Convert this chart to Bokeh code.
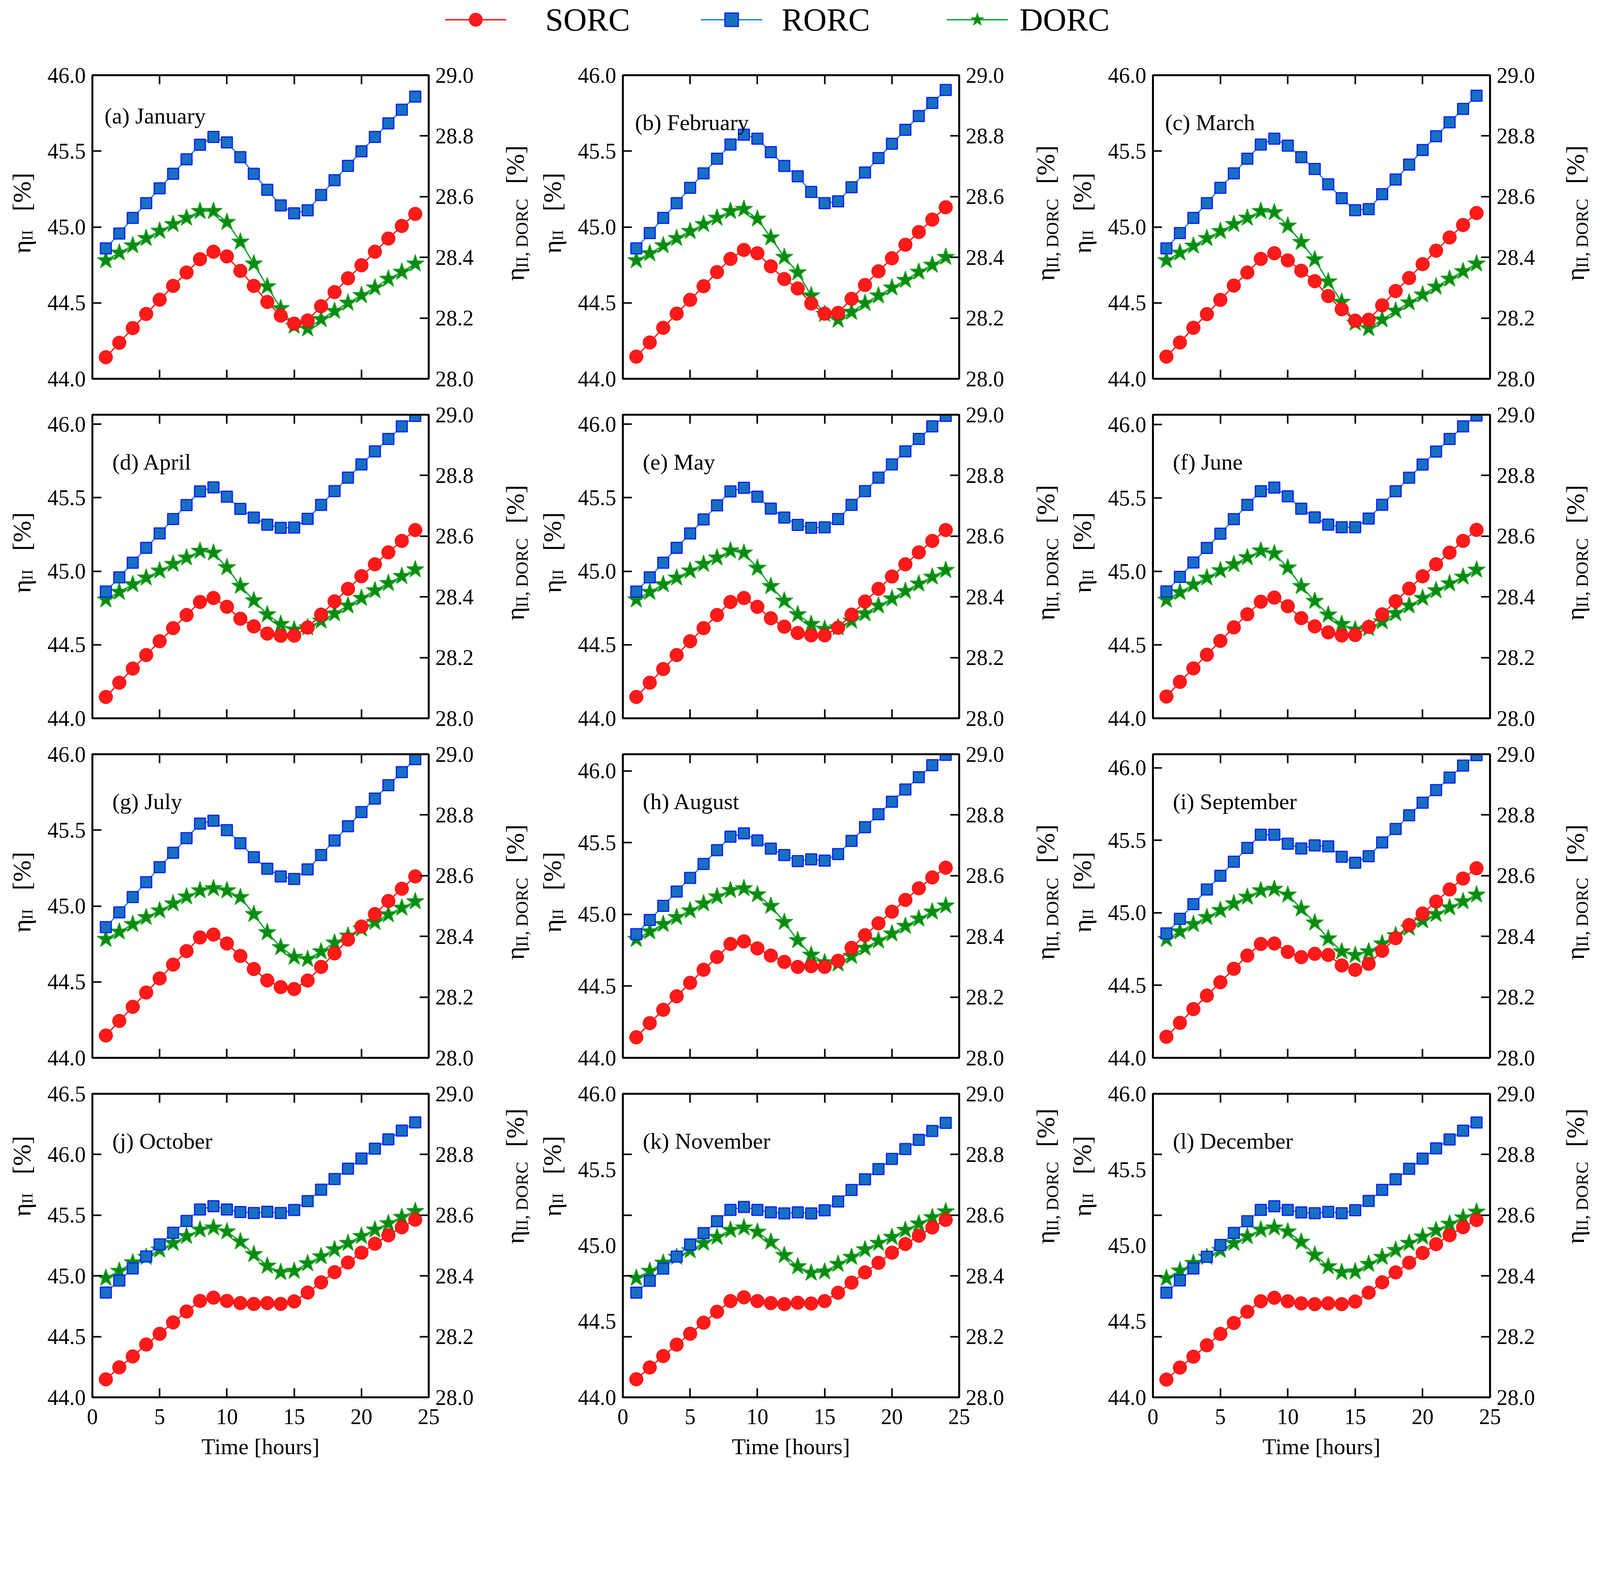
from math import pi
from bokeh.plotting import figure
from bokeh.models import (Range1d, LinearAxis, FixedTicker, PrintfTickFormatter,
                          CustomJSTickFormatter, Label, Legend, LegendItem, ColumnDataSource)
from bokeh.layouts import column, row
from bokeh.embed import file_html
from bokeh.resources import INLINE
from bokeh.core.properties import value

FONT = "Liberation Serif"

hours = list(range(1, 25))

series_names = ["SORC", "RORC", "DORC"]

sorc_jan = [44.142,44.237,44.334,44.427,44.521,44.612,44.700,44.788,44.837,44.806,44.711,44.612,44.506,44.416,44.363,44.384,44.478,44.571,44.662,44.748,44.837,44.924,45.007,45.086]
rorc_jan = [44.859,44.957,45.060,45.157,45.255,45.351,45.446,45.542,45.593,45.557,45.460,45.351,45.245,45.142,45.090,45.110,45.211,45.308,45.403,45.499,45.593,45.683,45.773,45.859]
dorc_jan = [28.390,28.415,28.439,28.463,28.487,28.509,28.530,28.552,28.552,28.516,28.451,28.379,28.304,28.232,28.174,28.165,28.196,28.223,28.250,28.275,28.300,28.329,28.352,28.379]

sorc_feb = [44.146,44.239,44.336,44.429,44.520,44.610,44.703,44.790,44.849,44.827,44.741,44.657,44.595,44.496,44.429,44.434,44.527,44.618,44.708,44.794,44.883,44.967,45.049,45.130]
rorc_feb = [44.859,44.960,45.060,45.157,45.258,45.353,45.450,45.543,45.608,45.582,45.493,45.402,45.334,45.231,45.157,45.169,45.262,45.359,45.454,45.548,45.640,45.731,45.817,45.903]
dorc_feb = [28.390,28.413,28.439,28.463,28.486,28.509,28.530,28.552,28.559,28.527,28.465,28.401,28.350,28.274,28.213,28.194,28.220,28.249,28.274,28.300,28.325,28.352,28.375,28.401]

sorc_mar = [44.146,44.239,44.336,44.426,44.520,44.614,44.700,44.790,44.827,44.780,44.712,44.643,44.545,44.458,44.383,44.389,44.484,44.578,44.664,44.755,44.844,44.931,45.013,45.092]
rorc_mar = [44.859,44.960,45.060,45.157,45.258,45.353,45.450,45.543,45.582,45.536,45.460,45.382,45.281,45.190,45.111,45.118,45.216,45.313,45.411,45.507,45.598,45.690,45.778,45.865]
dorc_mar = [28.390,28.415,28.438,28.463,28.486,28.509,28.530,28.552,28.548,28.504,28.450,28.393,28.320,28.253,28.184,28.166,28.195,28.224,28.251,28.277,28.303,28.329,28.354,28.379]

sorc_apr = [44.145,44.242,44.338,44.430,44.524,44.613,44.702,44.791,44.818,44.758,44.677,44.625,44.576,44.561,44.562,44.617,44.705,44.795,44.880,44.966,45.047,45.128,45.206,45.280]
rorc_apr = [44.862,44.958,45.058,45.159,45.257,45.355,45.450,45.543,45.570,45.507,45.424,45.365,45.316,45.295,45.297,45.356,45.451,45.545,45.636,45.726,45.815,45.899,45.985,46.056]
dorc_apr = [28.391,28.416,28.441,28.463,28.486,28.508,28.529,28.551,28.545,28.497,28.436,28.388,28.342,28.310,28.292,28.299,28.321,28.345,28.371,28.396,28.421,28.445,28.468,28.490]

sorc_may = [44.145,44.242,44.335,44.430,44.524,44.613,44.702,44.791,44.818,44.758,44.680,44.623,44.580,44.564,44.564,44.616,44.705,44.794,44.880,44.964,45.047,45.128,45.206,45.280]
rorc_may = [44.862,44.958,45.058,45.159,45.257,45.352,45.448,45.543,45.567,45.507,45.426,45.365,45.315,45.295,45.298,45.355,45.451,45.545,45.636,45.726,45.815,45.899,45.985,46.056]
dorc_may = [28.391,28.416,28.441,28.463,28.486,28.508,28.529,28.552,28.545,28.495,28.435,28.387,28.342,28.310,28.294,28.299,28.321,28.345,28.371,28.394,28.419,28.443,28.466,28.488]

sorc_jun = [44.148,44.248,44.340,44.433,44.527,44.619,44.708,44.794,44.822,44.763,44.682,44.626,44.585,44.564,44.567,44.622,44.708,44.797,44.883,44.967,45.049,45.128,45.208,45.283]
rorc_jun = [44.864,44.963,45.061,45.160,45.257,45.356,45.453,45.546,45.571,45.512,45.427,45.368,45.319,45.301,45.301,45.360,45.454,45.546,45.638,45.728,45.816,45.902,45.988,46.062]
dorc_jun = [28.390,28.415,28.440,28.463,28.487,28.507,28.530,28.552,28.543,28.496,28.435,28.386,28.341,28.310,28.292,28.296,28.319,28.346,28.371,28.396,28.421,28.444,28.466,28.489]

sorc_jul = [44.147,44.243,44.336,44.430,44.523,44.614,44.703,44.793,44.812,44.753,44.671,44.585,44.510,44.466,44.453,44.509,44.599,44.688,44.779,44.865,44.947,45.033,45.114,45.195]
rorc_jul = [44.861,44.958,45.059,45.157,45.256,45.351,45.447,45.543,45.562,45.500,45.414,45.322,45.246,45.195,45.178,45.241,45.336,45.432,45.526,45.619,45.708,45.796,45.882,45.968]
dorc_jul = [28.391,28.415,28.440,28.463,28.485,28.508,28.531,28.551,28.558,28.551,28.529,28.473,28.413,28.364,28.332,28.325,28.350,28.379,28.402,28.425,28.447,28.472,28.494,28.515]

sorc_aug = [44.143,44.242,44.335,44.429,44.523,44.614,44.703,44.794,44.812,44.763,44.713,44.669,44.634,44.639,44.634,44.677,44.767,44.855,44.938,45.019,45.101,45.182,45.258,45.326]
rorc_aug = [44.862,44.961,45.060,45.159,45.255,45.352,45.448,45.542,45.565,45.516,45.459,45.414,45.372,45.384,45.375,45.421,45.513,45.608,45.699,45.786,45.871,45.957,46.041,46.113]
dorc_aug = [28.391,28.416,28.440,28.463,28.485,28.508,28.531,28.552,28.558,28.538,28.500,28.447,28.387,28.339,28.314,28.310,28.335,28.362,28.386,28.409,28.434,28.458,28.481,28.501]

sorc_sep = [44.145,44.241,44.336,44.429,44.521,44.614,44.705,44.785,44.788,44.730,44.694,44.717,44.709,44.637,44.607,44.648,44.738,44.825,44.916,44.995,45.077,45.161,45.236,45.307]
rorc_sep = [44.858,44.958,45.059,45.160,45.255,45.352,45.447,45.538,45.538,45.476,45.443,45.465,45.458,45.386,45.345,45.390,45.485,45.578,45.672,45.759,45.846,45.932,46.015,46.087]
dorc_sep = [28.391,28.416,28.440,28.463,28.486,28.508,28.530,28.551,28.556,28.537,28.491,28.445,28.393,28.350,28.338,28.350,28.376,28.403,28.428,28.452,28.473,28.495,28.515,28.537]

sorc_oct = [44.148,44.247,44.337,44.435,44.523,44.617,44.707,44.794,44.821,44.794,44.776,44.769,44.776,44.769,44.790,44.863,44.947,45.031,45.110,45.191,45.265,45.334,45.400,45.463]
rorc_oct = [44.863,44.962,45.062,45.160,45.260,45.355,45.453,45.547,45.574,45.547,45.526,45.518,45.528,45.518,45.543,45.616,45.710,45.798,45.883,45.967,46.048,46.124,46.197,46.264]
dorc_oct = [28.393,28.416,28.444,28.462,28.486,28.508,28.531,28.552,28.559,28.546,28.513,28.471,28.433,28.412,28.416,28.441,28.464,28.487,28.508,28.531,28.552,28.573,28.594,28.613]

sorc_nov = [44.119,44.197,44.272,44.347,44.419,44.492,44.564,44.634,44.659,44.634,44.621,44.614,44.623,44.618,44.634,44.689,44.756,44.823,44.886,44.953,45.010,45.065,45.119,45.169]
rorc_nov = [44.690,44.768,44.848,44.927,45.007,45.082,45.160,45.235,45.254,45.235,45.219,45.212,45.219,45.212,45.232,45.290,45.366,45.436,45.504,45.571,45.636,45.696,45.755,45.808]
dorc_nov = [28.393,28.416,28.443,28.462,28.484,28.508,28.528,28.551,28.559,28.545,28.512,28.468,28.431,28.410,28.414,28.439,28.462,28.487,28.508,28.528,28.551,28.572,28.593,28.612]

sorc_dec = [44.117,44.196,44.268,44.343,44.418,44.490,44.564,44.633,44.656,44.633,44.619,44.614,44.619,44.614,44.631,44.690,44.758,44.823,44.887,44.951,45.009,45.068,45.121,45.168]
rorc_dec = [44.690,44.770,44.849,44.926,45.004,45.083,45.160,45.235,45.259,45.235,45.218,45.213,45.222,45.213,45.233,45.294,45.367,45.436,45.506,45.573,45.640,45.699,45.757,45.811]
dorc_dec = [28.392,28.417,28.442,28.462,28.485,28.508,28.530,28.552,28.559,28.546,28.512,28.469,28.431,28.412,28.414,28.439,28.462,28.485,28.508,28.529,28.550,28.571,28.592,28.611]

panel_titles = ["(a) January", "(b) February", "(c) March", "(d) April", "(e) May", "(f) June",
                "(g) July", "(h) August", "(i) September", "(j) October", "(k) November", "(l) December"]
left_top = [46.0, 46.0, 46.0, 46.064, 46.064, 46.067, 46.0, 46.117, 46.093, 46.5, 46.0, 46.0]
left_ticks_std = [44.0, 44.5, 45.0, 45.5, 46.0]
left_ticks_oct = [44.0, 44.5, 45.0, 45.5, 46.0, 46.5]
left_marks_nov_dec = [44.0, 44.4, 44.8, 45.2, 45.6, 46.0]
right_ticks = [28.0, 28.2, 28.4, 28.6, 28.8, 29.0]
x_ticks = [0, 5, 10, 15, 20, 25]

months = [
    (sorc_jan, rorc_jan, dorc_jan), (sorc_feb, rorc_feb, dorc_feb), (sorc_mar, rorc_mar, dorc_mar),
    (sorc_apr, rorc_apr, dorc_apr), (sorc_may, rorc_may, dorc_may), (sorc_jun, rorc_jun, dorc_jun),
    (sorc_jul, rorc_jul, dorc_jul), (sorc_aug, rorc_aug, dorc_aug), (sorc_sep, rorc_sep, dorc_sep),
    (sorc_oct, rorc_oct, dorc_oct), (sorc_nov, rorc_nov, dorc_nov), (sorc_dec, rorc_dec, dorc_dec),
]

RED_LINE = "#ff1010"
RED_FILL = "#ff1a1a"
BLUE_LINE = "#1a86d0"
BLUE_FILL = "#1770c0"
BLUE_EDGE = "#0a1cff"
GREEN_LINE = "#169a3a"
GREEN_FILL = "#0a8a14"
GREEN_EDGE = "#22aa22"

# layout (CSS px)
COL_W = [861, 861, 863]
SIDE = 140
FRAME_H = 777
TOP_B = 56
BOT_B = 36
BOT_LAST = 178
ROW_H = TOP_B + FRAME_H + BOT_B
ROW_H_LAST = TOP_B + FRAME_H + BOT_LAST
STRIP_W = [96, 217, 216, 120]
LEGEND_H = 136
TOTAL_W = sum(STRIP_W) + sum(COL_W) + 6 * SIDE

TICK_FONT = "56px"
LW = 3.3


def style_axis(ax, labels=True, standoff=17):
    ax.axis_line_width = 5
    ax.axis_line_color = "black"
    ax.major_tick_in = 23
    ax.major_tick_out = 0
    ax.major_tick_line_width = 4
    ax.minor_tick_line_color = None
    ax.major_label_text_font = FONT
    ax.major_label_text_font_size = TICK_FONT
    ax.major_label_text_color = "black"
    ax.major_label_standoff = standoff
    if not labels:
        ax.formatter = CustomJSTickFormatter(code="return ''")


def make_panel(i):
    col = i % 3
    last = i >= 9
    sorc, rorc, dorc = months[i]
    ytop = left_top[i]
    p = figure(frame_width=COL_W[col], frame_height=FRAME_H,
               min_border_left=SIDE, min_border_right=SIDE,
               min_border_top=TOP_B, min_border_bottom=(BOT_LAST if last else BOT_B),
               x_range=Range1d(0, 25), y_range=Range1d(44.0, ytop),
               x_axis_location=None, y_axis_location=None,
               output_backend="svg", toolbar_location=None)
    p.extra_y_ranges = {"dorc": Range1d(28.0, 29.0)}
    p.grid.grid_line_color = None
    p.outline_line_color = "black"
    p.outline_line_width = 5
    p.background_fill_color = "white"
    p.border_fill_color = "white"

    src = ColumnDataSource(dict(hour=hours, sorc=sorc, rorc=rorc, dorc=dorc))

    if i >= 10:
        # November / December: tick marks sit at the right-axis positions,
        # while the labels stay at 0.5 steps (as in the reference)
        lm = LinearAxis(ticker=FixedTicker(ticks=left_marks_nov_dec))
        style_axis(lm, labels=False, standoff=0)
        p.add_layout(lm, "left")
        ly = LinearAxis(ticker=FixedTicker(ticks=left_ticks_std),
                        formatter=PrintfTickFormatter(format="%.1f"))
        style_axis(ly, standoff=17)
        ly.major_tick_in = 0
        ly.axis_line_color = None
        p.add_layout(ly, "left")
    else:
        ly = LinearAxis(ticker=FixedTicker(ticks=left_ticks_oct if i == 9 else left_ticks_std),
                        formatter=PrintfTickFormatter(format="%.1f"))
        style_axis(ly)
        p.add_layout(ly, "left")
    ry = LinearAxis(y_range_name="dorc", ticker=FixedTicker(ticks=right_ticks),
                    formatter=PrintfTickFormatter(format="%.1f"))
    style_axis(ry)
    p.add_layout(ry, "right")
    tx = LinearAxis(ticker=FixedTicker(ticks=x_ticks))
    style_axis(tx, labels=False)
    p.add_layout(tx, "above")
    bx = LinearAxis(ticker=FixedTicker(ticks=x_ticks))
    if last:
        style_axis(bx, labels=True, standoff=30)
        bx.axis_label = "Time [hours]"
        bx.axis_label_text_font = FONT
        bx.axis_label_text_font_size = "58px"
        bx.axis_label_text_font_style = "normal"
        bx.axis_label_text_color = "black"
        bx.axis_label_standoff = 22
    else:
        style_axis(bx, labels=False)
    p.add_layout(bx, "below")

    p.line("hour", "dorc", source=src, y_range_name="dorc", color=GREEN_LINE, line_width=LW)
    p.scatter("hour", "dorc", source=src, y_range_name="dorc", marker="star", size=47,
              fill_color=GREEN_FILL, line_color=GREEN_EDGE, line_width=2)
    p.line("hour", "rorc", source=src, color=BLUE_LINE, line_width=LW)
    p.scatter("hour", "rorc", source=src, marker="square", size=28,
              fill_color=BLUE_FILL, line_color=BLUE_EDGE, line_width=3)
    p.line("hour", "sorc", source=src, color=RED_LINE, line_width=LW)
    p.scatter("hour", "sorc", source=src, marker="circle", size=35,
              fill_color=RED_FILL, line_color="#ee0000", line_width=1)

    p.add_layout(Label(x=0, y=ytop, x_offset=(31 if i < 3 else 51),
                       y_offset=(-104 if i == 0 else -121),
                       text=panel_titles[i], text_font=FONT, text_font_size="58px",
                       text_align="left", text_baseline="alphabetic", text_color="black"))
    return p


def vlabel(s, x, y, text, size):
    s.add_layout(Label(x=x, y=y, x_units="screen", y_units="screen", text=text, angle=pi / 2,
                       text_font=FONT, text_font_size=size, text_align="left",
                       text_baseline="alphabetic", text_color="black"))


def left_label(s, bx, yc):
    y0 = yc - 104
    vlabel(s, bx, y0, "η", "66px")
    vlabel(s, bx + 13, y0 + 33, "II", "41px")
    vlabel(s, bx, y0 + 108, "[%]", "66px")


def right_label(s, bx, yc):
    y0 = yc - 174
    vlabel(s, bx, y0, "η", "66px")
    vlabel(s, bx + 17, y0 + 33, "II, DORC", "45px")
    vlabel(s, bx, y0 + 248, "[%]", "66px")


def make_strip(k, h):
    w = STRIP_W[k]
    s = figure(width=w, height=h, x_range=Range1d(0, w), y_range=Range1d(0, h),
               x_axis_location=None, y_axis_location=None, toolbar_location=None,
               output_backend="svg", min_border=0)
    s.grid.grid_line_color = None
    s.outline_line_color = None
    yc = h - (TOP_B + FRAME_H / 2)
    if k == 0:
        left_label(s, 55, yc)
    elif k == 1:
        right_label(s, 81, yc)
        left_label(s, 176, yc)
    elif k == 2:
        right_label(s, 81, yc)
        left_label(s, 175, yc)
    else:
        right_label(s, 78, yc)
    return s


panels = [make_panel(i) for i in range(12)]

rows = []
for r in range(4):
    h = ROW_H_LAST if r == 3 else ROW_H
    rows.append(row(make_strip(0, h), panels[3 * r], make_strip(1, h), panels[3 * r + 1],
                    make_strip(2, h), panels[3 * r + 2], make_strip(3, h)))

# legend strip: one legend entry per series, each placed where the reference has it
lf = figure(width=TOTAL_W, height=LEGEND_H, x_range=Range1d(0, 1), y_range=Range1d(0, 1),
            x_axis_location=None, y_axis_location=None, toolbar_location=None,
            output_backend="svg", min_border=0)
lf.grid.grid_line_color = None
lf.outline_line_color = None
hidden = ColumnDataSource(dict(x=[-5.0], y=[-5.0]))
r1 = [lf.line("x", "y", source=hidden, color=RED_LINE, line_width=LW),
      lf.scatter("x", "y", source=hidden, marker="circle", fill_color=RED_FILL, line_color="#ee0000")]
r2 = [lf.line("x", "y", source=hidden, color=BLUE_LINE, line_width=LW),
      lf.scatter("x", "y", source=hidden, marker="square", fill_color=BLUE_FILL, line_color=BLUE_EDGE, line_width=3)]
r3 = [lf.line("x", "y", source=hidden, color=GREEN_LINE, line_width=LW),
      lf.scatter("x", "y", source=hidden, marker="star", fill_color=GREEN_FILL, line_color=GREEN_EDGE, line_width=2)]

legend_x = [1139, 1794, 2423]
legend_standoff = [100, 50, 30]
for name, rends, lx, so in zip(series_names, [r1, r2, r3], legend_x, legend_standoff):
    leg = Legend(items=[LegendItem(label=name, renderers=rends)],
                 orientation="horizontal", location=(lx, 38),
                 glyph_width=157, glyph_height=86, label_standoff=so,
                 padding=0, margin=0, border_line_color=None, background_fill_alpha=0,
                 label_text_font=FONT, label_text_font_size="83px", label_text_color="black",
                 label_text_baseline="middle")
    lf.add_layout(leg)

layout = column(lf, *rows)

open("out.html", "w").write(file_html(layout, INLINE))
